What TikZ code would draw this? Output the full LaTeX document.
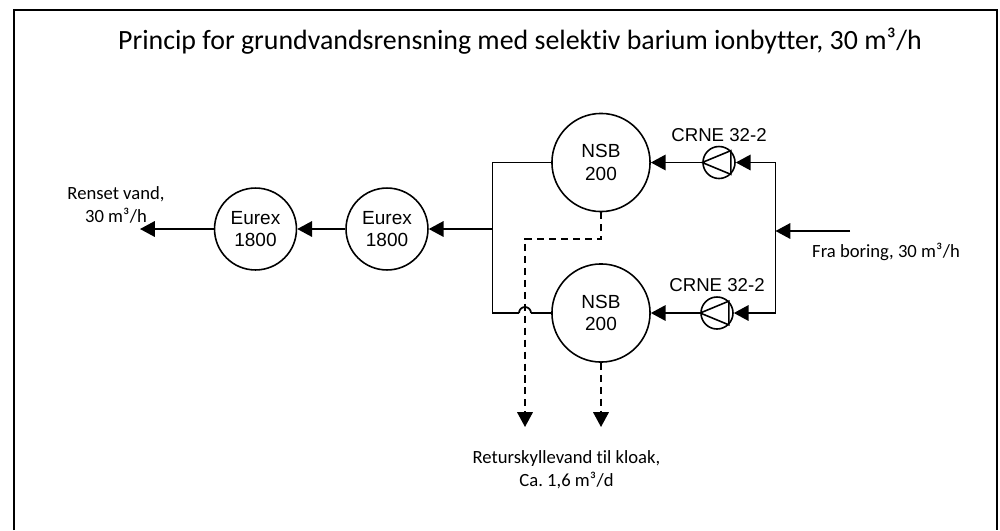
\documentclass[tikz,border=0pt]{standalone}
\usepackage{fontspec}
\setmainfont{Carlito}[Ligatures=NoCommon]
\newfontfamily\arialfont{Liberation Sans}
\usetikzlibrary{arrows.meta}
\newcommand{\cubic}{m³\kern0.15pt}
\tikzset{
    vessel/.style={circle,draw,line width=0.45pt,minimum size=23.3pt,inner sep=0pt,align=center,font=\arialfont\fontsize{5.4}{6.3}\selectfont},
    bigvessel/.style={vessel,minimum size=27.9pt},
    pump/.style={circle,draw,line width=0.45pt,minimum size=9.1pt,inner sep=0pt},
    pipe/.style={-,draw=black,line width=0.5pt},
    flow/.style={->,> = {Triangle[length=4.2pt,width=4.4pt]},draw=black,line width=0.5pt},
    backwash/.style={flow,dash pattern=on 2pt off 1.4pt},
    note/.style={align=center,inner sep=0pt,font=\fontsize{5.3}{6.5}\selectfont},
    pumpnote/.style={inner sep=0pt,font=\arialfont\fontsize{5.3}{6.3}\selectfont},
}
\begin{document}
\begin{tikzpicture}[x=0.01cm,y=-0.01cm]
    \useasboundingbox (0,0) rectangle (1000,530);
    \draw[line width=0.6pt] (14,530) -- (14,10) -- (997,10) -- (997,530);
    \node[inner sep=0pt,font=\fontsize{7.93}{9}\selectfont] (title) at (520,41.5) {Princip for grundvandsrensning med selektiv barium ionbytter, 30 \cubic/h};
    \node[vessel] (eurex1) at (255.5,229) {Eurex\\1800};
    \node[vessel] (eurex2) at (387,229) {Eurex\\1800};
    \node[bigvessel] (nsb1) at (601,162.5) {NSB\\200};
    \node[bigvessel] (nsb2) at (601,313) {NSB\\200};
    \node[pump] (pump1) at (719,162.5) {};
    \node[pump] (pump2) at (717,313) {};
    \coordinate (outlet) at (140,229);
    \coordinate (collect) at (492.5,229);
    \coordinate (upleft) at (492.5,162.5);
    \coordinate (lowleft) at (492.5,313);
    \coordinate (upright) at (775.5,162.5);
    \coordinate (lowright) at (775.5,313);
    \coordinate (feed) at (775.5,231);
    \coordinate (inlet) at (850,231);
    \coordinate (bendright) at (601,239);
    \coordinate (bendleft) at (525,239);
    \coordinate (drain1) at (525,427);
    \coordinate (drain2) at (601,427);
    \coordinate (hopstart) at (519,313);
    \coordinate (hopend) at (531,313);
    \foreach \p in {pump1,pump2}
        \draw[line width=0.45pt] (\p.west) -- (\p.45) -- (\p.-45) -- cycle;
    \draw[flow] (eurex1) -- (outlet);
    \draw[flow] (eurex2) -- (eurex1);
    \draw[flow] (collect) -- (eurex2);
    \draw[pipe] (nsb1) -- (upleft) -- (lowleft) -- (hopstart);
    \draw[pipe] (hopstart) arc[start angle=180,end angle=360,radius=6];
    \draw[pipe] (hopend) -- (nsb2);
    \draw[flow] (pump1) -- (nsb1);
    \draw[flow] (pump2) -- (nsb2);
    \draw[flow] (upright) -- (pump1);
    \draw[flow] (lowright) -- (pump2);
    \draw[pipe] (upright) -- (lowright);
    \draw[flow] (inlet) -- (feed);
    \draw[backwash] (nsb1) -- (bendright) -- (bendleft) -- (drain1);
    \draw[backwash] (nsb2) -- (drain2);
    \node[pumpnote] (label1) at (719,135) {CRNE 32-2};
    \node[pumpnote] (label2) at (717,285) {CRNE 32-2};
    \node[note] (renset) at (116,205) {Renset vand,\\30 \cubic/h};
    \node[note] (boring) at (886,252) {Fra boring, 30 \cubic/h};
    \node[note] (retur) at (566.5,470) {Returskyllevand til kloak,\\Ca.\ 1,6 \cubic/d};
\end{tikzpicture}
\end{document}
